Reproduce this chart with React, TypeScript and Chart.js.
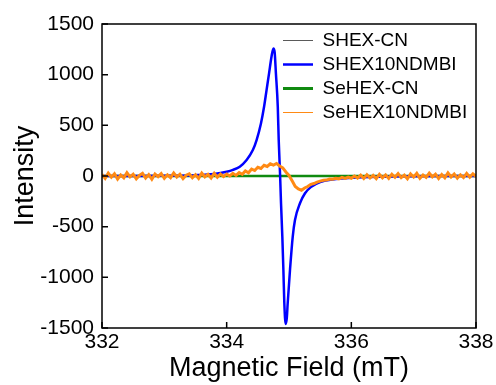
import React, { useEffect, useRef } from "react";
import { Chart, registerables } from "chart.js";

Chart.register(...registerables);

const FONT = 'Arial, "Liberation Sans", Helvetica, sans-serif';

const fieldTicks = [332, 334, 336, 338];
const intensityTicks = [-1500, -1000, -500, 0, 500, 1000, 1500];

const seriesNames = ["SHEX-CN", "SHEX10NDMBI", "SeHEX-CN", "SeHEX10NDMBI"];
const seriesColors = ["#5a5a5a", "#0000ff", "#108a10", "#ff8a14"];
const legendLineWidths = [1, 2.5, 3, 1.2];

const shexCnField = [332, 338];
const shexCnIntensity = [0, 0];

const shex10Field = [
  332, 332.5, 333, 333.5, 333.8, 334.0, 334.1, 334.21, 334.32, 334.42,
  334.48, 334.55, 334.6, 334.64, 334.68, 334.72, 334.75, 334.77, 334.79, 334.82,
  334.835, 334.856, 334.872, 334.893, 334.91, 334.925, 334.947, 334.965, 334.979, 335.016,
  335.06, 335.096, 335.176, 335.257, 335.35, 335.5, 335.7, 336, 336.5, 337,
  337.5, 338,
];
const shex10Intensity = [
  0, 0, 2, 8, 20, 42, 60, 92, 158, 256,
  355, 519, 683, 848, 1013, 1180, 1259, 1220, 1013, 683,
  355, 27, -269, -598, -927, -1256, -1460, -1400, -1256, -927,
  -598, -434, -269, -170, -110, -60, -35, -18, -7, -3,
  -1, 0,
];

const sehexCnField = [332, 338];
const sehexCnIntensity = [0, 0];

const sehex10Field = [
  332.0, 332.05, 332.1, 332.15, 332.2, 332.25, 332.3, 332.35, 332.4, 332.45,
  332.5, 332.55, 332.6, 332.65, 332.7, 332.75, 332.8, 332.85, 332.9, 332.95,
  333.0, 333.05, 333.1, 333.15, 333.2, 333.25, 333.3, 333.35, 333.4, 333.45,
  333.5, 333.55, 333.6, 333.65, 333.7, 333.75, 333.8, 333.85, 333.9, 333.95,
  334.0, 334.05, 334.1, 334.15, 334.2, 334.25, 334.3, 334.35, 334.4, 334.45,
  334.5, 334.55, 334.6, 334.65, 334.7, 334.75, 334.8, 334.85, 334.9, 334.95,
  335.0, 335.05, 335.1, 335.15, 335.2, 335.25, 335.3, 335.35, 335.4, 335.45,
  335.5, 335.55, 335.6, 335.65, 335.7, 335.75, 335.8, 335.85, 335.9, 335.95,
  336.0, 336.05, 336.1, 336.15, 336.2, 336.25, 336.3, 336.35, 336.4, 336.45,
  336.5, 336.55, 336.6, 336.65, 336.7, 336.75, 336.8, 336.85, 336.9, 336.95,
  337.0, 337.05, 337.1, 337.15, 337.2, 337.25, 337.3, 337.35, 337.4, 337.45,
  337.5, 337.55, 337.6, 337.65, 337.7, 337.75, 337.8, 337.85, 337.9, 337.95,
  338.0,
];
const sehex10Intensity = [
  16, -24, 28, -12, 22, -30, 10, -18, 32, -8,
  18, -28, 6, 26, -20, 14, -32, 20, -6, 24,
  -22, 12, -16, 30, -10, 18, -26, 8, 22, -18,
  12, -24, 28, -8, 16, -20, 26, -12, 20, -6,
  18, 0, 26, 6, 34, 16, 50, 32, 68, 54,
  86, 74, 106, 94, 120, 108, 124, 98, 80, 40,
  6, -48, -104, -128, -140, -118, -104, -82, -74, -60,
  -50, -42, -40, -30, -32, -22, -28, -14, -24, -10,
  -22, 0, -20, 8, -24, 12, -20, 6, -26, 16,
  -18, 10, -24, 18, -12, 24, -16, 8, -28, 20,
  -10, 26, -22, 10, -14, 28, -8, 18, -24, 14,
  -18, 30, -10, 20, -22, 12, -16, 26, -12, 22,
  -6,
];

const toPoints = (xs: number[], ys: number[]) => xs.map((x, i) => ({ x, y: ys[i] }));

const framePlugin = {
  id: "frameTicks",
  afterDatasetsDraw(chart: any) {
    const { ctx, chartArea: a, scales } = chart;
    ctx.save();
    ctx.strokeStyle = "#000";
    ctx.lineWidth = 1.5;
    ctx.strokeRect(a.left, a.top, a.right - a.left, a.bottom - a.top);
    ctx.beginPath();
    for (const v of fieldTicks) {
      const x = scales.x.getPixelForValue(v);
      ctx.moveTo(x, a.bottom);
      ctx.lineTo(x, a.bottom - 6);
    }
    for (const v of intensityTicks) {
      const y = scales.y.getPixelForValue(v);
      ctx.moveTo(a.left, y);
      ctx.lineTo(a.left + 6, y);
    }
    ctx.stroke();
    ctx.restore();
  },
};

const legendPlacePlugin = {
  id: "legendPlace",
  afterLayout(chart: any) {
    const lg = chart.legend;
    if (!lg) return;
    const w = lg.width;
    const h = lg.height;
    lg.left = 278;
    lg.top = 26;
    lg.right = lg.left + w;
    lg.bottom = lg.top + h;
  },
};

export default function App() {
  const ref = useRef<HTMLCanvasElement | null>(null);

  useEffect(() => {
    if (!ref.current) return;
    const chart = new Chart(ref.current, {
      type: "line",
      data: {
        datasets: [
          {
            label: seriesNames[0],
            data: toPoints(shexCnField, shexCnIntensity),
            borderColor: seriesColors[0],
            backgroundColor: seriesColors[0],
            borderWidth: 1,
            pointRadius: 0,
            order: 4,
          },
          {
            label: seriesNames[1],
            data: toPoints(shex10Field, shex10Intensity),
            borderColor: seriesColors[1],
            backgroundColor: seriesColors[1],
            borderWidth: 2.5,
            pointRadius: 0,
            cubicInterpolationMode: "monotone",
            order: 2,
          },
          {
            label: seriesNames[2],
            data: toPoints(sehexCnField, sehexCnIntensity),
            borderColor: seriesColors[2],
            backgroundColor: seriesColors[2],
            borderWidth: 2.5,
            pointRadius: 0,
            order: 3,
          },
          {
            label: seriesNames[3],
            data: toPoints(sehex10Field, sehex10Intensity),
            borderColor: seriesColors[3],
            backgroundColor: seriesColors[3],
            borderWidth: 3,
            pointRadius: 0,
            order: 1,
          },
        ],
      },
      options: {
        animation: false,
        responsive: false,
        devicePixelRatio: 1,
        layout: { padding: { top: 24, right: 20, left: 0, bottom: 0 } },
        plugins: {
          tooltip: { enabled: false },
          legend: {
            position: "chartArea",
            align: "start",
            labels: {
              usePointStyle: true,
              pointStyle: "line",
              pointStyleWidth: 30,
              boxWidth: 30,
              padding: 5,
              color: "#000",
              font: { family: FONT, size: 19 },
              sort: (a: any, b: any) => a.datasetIndex - b.datasetIndex,
              generateLabels: (c: any) => {
                const items = Chart.defaults.plugins.legend.labels.generateLabels(c);
                return items.map((it: any) => ({
                  ...it,
                  lineWidth: legendLineWidths[it.datasetIndex],
                }));
              },
            },
          },
        },
        scales: {
          x: {
            type: "linear",
            min: 332,
            max: 338,
            afterBuildTicks: (s: any) => {
              s.ticks = fieldTicks.map((v) => ({ value: v }));
            },
            afterFit: (s: any) => {
              s.height = 57;
            },
            grid: { display: false, drawTicks: false },
            border: { display: false },
            ticks: {
              color: "#000",
              padding: 2,
              maxRotation: 0,
              autoSkip: false,
              font: { family: FONT, size: 21 },
              callback: (v: any) => String(v),
            },
            title: {
              display: true,
              text: "Magnetic Field (mT)",
              color: "#000",
              font: { family: FONT, size: 27 },
              padding: { top: 0, bottom: 0 },
            },
          },
          y: {
            type: "linear",
            min: -1500,
            max: 1500,
            afterBuildTicks: (s: any) => {
              s.ticks = intensityTicks.map((v) => ({ value: v }));
            },
            afterFit: (s: any) => {
              s.width = 102;
            },
            grid: { display: false, drawTicks: false },
            border: { display: false },
            ticks: {
              color: "#000",
              padding: 8,
              autoSkip: false,
              font: { family: FONT, size: 21 },
              callback: (v: any) => String(v),
            },
            title: {
              display: true,
              text: "Intensity",
              color: "#000",
              font: { family: FONT, size: 27 },
              padding: { top: 9, bottom: 0 },
            },
          },
        },
      },
      plugins: [framePlugin, legendPlacePlugin],
    } as any);
    return () => chart.destroy();
  }, []);

  return (
    <div style={{ position: "fixed", left: 0, top: 0, width: 496, height: 385, background: "#fff" }}>
      <canvas ref={ref} width={496} height={385} style={{ display: "block" }} />
    </div>
  );
}
